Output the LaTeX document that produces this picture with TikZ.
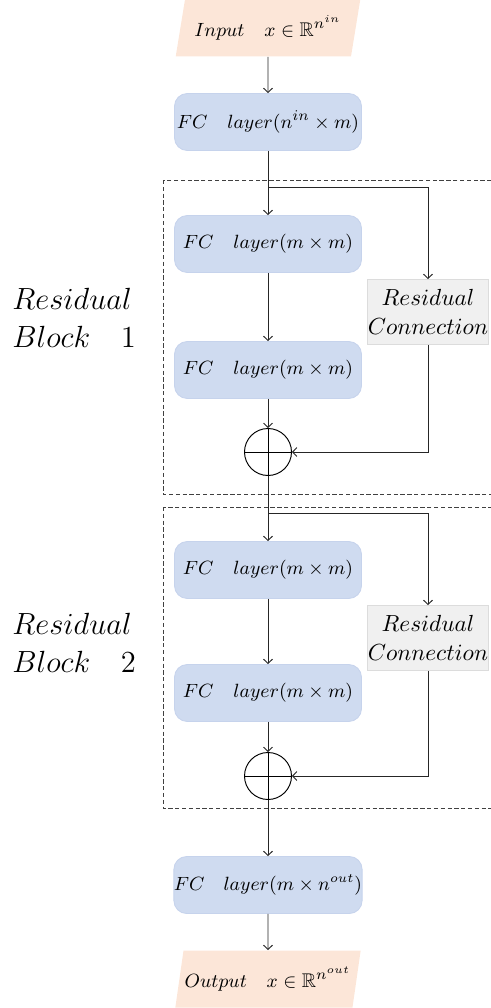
\documentclass[tikz,border=0pt]{standalone}
\usepackage{amsmath,amssymb}
\usetikzlibrary{shapes.geometric,arrows.meta}
\definecolor{ioFill}{HTML}{FCE6D8}
\definecolor{fcFill}{HTML}{CFDBF0}
\definecolor{fcLine}{HTML}{C6D3EC}
\definecolor{resFill}{HTML}{F0F0F0}
\definecolor{resLine}{HTML}{DCDCDC}
\begin{document}
\begin{tikzpicture}[x=0.47pt,y=-0.47pt,
  nodefont/.style={font=\fontsize{9.3}{11}\selectfont},
  io/.style={nodefont, trapezium, trapezium left angle=72, trapezium right angle=108,
    trapezium stretches=true, fill=ioFill, minimum width=186*0.47pt,
    minimum height=57*0.47pt, inner sep=0pt},
  fc/.style={nodefont, rectangle, rounded corners=6pt, fill=fcFill, draw=fcLine,
    minimum width=187*0.47pt, minimum height=57*0.47pt, inner sep=0pt},
  res/.style={rectangle, fill=resFill, draw=resLine, minimum width=118*0.47pt,
    minimum height=65*0.47pt, align=center, inner sep=0pt,
    font=\fontsize{11}{13.6}\selectfont},
  sumnode/.style={circle, draw, line width=0.45pt, minimum size=47*0.47pt, inner sep=0pt,
    path picture={\draw[line width=0.45pt]
      (path picture bounding box.north) -- (path picture bounding box.south)
      (path picture bounding box.west) -- (path picture bounding box.east);}},
  flow/.style={-{Straight Barb[length=2pt,width=4.2pt]}, line width=0.45pt, draw=black!85},
  blockbox/.style={dash pattern=on 2pt off 1.2pt, line width=0.45pt, draw=black!75},
  blocklabel/.style={font=\Large, align=left, anchor=west, inner sep=0pt}
]
\useasboundingbox (0,0) rectangle (490,1008);

% residual block frames
\draw[blockbox] (163,180) rectangle (500,494);
\draw[blockbox] (163,507) rectangle (500,808);

% input / output
\node[io] (in) at (268,28) {$Input\quad x\in\mathbb{R}^{n^{in}}$};
\node[io] (out) at (268,979) {$Output\quad x\in\mathbb{R}^{n^{out}}$};

% fully connected layers
\node[fc] (fc0) at (268,122) {$FC\quad layer(n^{in}\times m)$};
\node[fc] (fc1) at (268,244) {$FC\quad layer(m\times m)$};
\node[fc] (fc2) at (268,370) {$FC\quad layer(m\times m)$};
\node[fc] (fc3) at (268,570) {$FC\quad layer(m\times m)$};
\node[fc] (fc4) at (268,693) {$FC\quad layer(m\times m)$};
\node[fc, font=\fontsize{8.9}{11}\selectfont] (fc5) at (268,885) {$FC\quad layer(m\times n^{out})$};

% residual connections and sums
\node[res] (r1) at (428,312) {$Residual$\\$Connection$};
\node[res] (r2) at (428,638) {$Residual$\\$Connection$};
\node[sumnode] (s1) at (268,452) {};
\node[sumnode] (s2) at (268,776) {};
\coordinate (br1) at (268,187);
\coordinate (br2) at (268,513);

% block labels
\node[blocklabel] (lab1) at (12,318) {$Residual$\\$Block\quad 1$};
\node[blocklabel] (lab2) at (12,643) {$Residual$\\$Block\quad 2$};

% main flow
\draw[flow] (in) -- (fc0);
\draw[flow] (fc0) -- (fc1);
\draw[flow] (fc1) -- (fc2);
\draw[flow] (fc2) -- (s1);
\draw[flow] (s1) -- (fc3);
\draw[flow] (fc3) -- (fc4);
\draw[flow] (fc4) -- (s2);
\draw[flow] (s2) -- (fc5);
\draw[flow] (fc5) -- (out);

% skip paths
\draw[flow] (br1) -| (r1.north);
\draw[flow] (r1.south) |- (s1.east);
\draw[flow] (br2) -| (r2.north);
\draw[flow] (r2.south) |- (s2.east);
\end{tikzpicture}
\end{document}
